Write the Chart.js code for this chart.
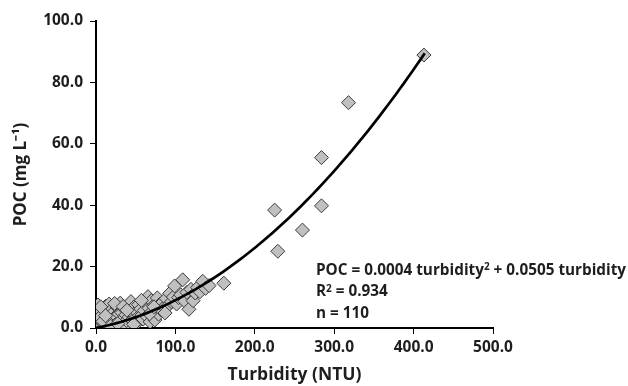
<!DOCTYPE html>
<html>
<head>
<meta charset="utf-8">
<script src="https://cdn.jsdelivr.net/npm/chart.js@4.4.1/dist/chart.umd.min.js"></script>
<style>
html,body{margin:0;padding:0;background:#fff;}
#wrap{width:628px;height:386px;position:relative;}
</style>
</head>
<body>
<div id="wrap"><canvas id="c" width="628" height="386"></canvas></div>
<script>
// ---- data ----
const turbidity = [
  1.2, 2.5, 3.0, 4.1, 5.0, 5.8, 6.5, 7.2, 8.0, 9.1,
  10.3, 11.0, 12.4, 13.5, 14.2, 15.8, 16.5, 17.9, 19.0, 20.3,
  21.5, 22.8, 24.0, 25.2, 26.7, 28.0, 29.3, 30.5, 31.8, 32.6,
  33.9, 35.0, 36.4, 37.7, 38.5, 40.1, 41.6, 42.9, 44.0, 45.3,
  46.8, 48.2, 49.5, 50.7, 52.0, 53.6, 55.1, 56.4, 58.0, 59.3,
  60.8, 62.5, 64.0, 65.4, 66.9, 68.2, 69.7, 71.0, 72.6, 74.1,
  75.5, 77.2, 78.8, 80.3, 82.0, 84.1, 86.0, 88.3, 90.5, 92.8,
  95.0, 97.4, 99.0, 101.5, 104.0, 106.7, 109.2, 111.8, 114.5, 117.0,
  119.6, 122.3, 125.0, 128.1, 131.0, 134.5, 138.0, 142.4,
  3.5, 6.0, 8.7, 12.0, 18.3, 23.5, 27.4, 34.2, 39.0, 47.5, 57.2, 67.5, 73.0, 87.0,
  161.0, 225.0, 229.0, 260.0, 284.0, 284.0, 318.0, 413.0
];
const poc = [
  1.5, 7.5, 0.8, 4.2, 2.6, 5.6, 0.5, 3.4, 6.4, 1.9,
  4.8, 0.9, 7.1, 2.7, 5.0, 3.6, 7.8, 1.6, 4.4, 6.0,
  2.3, 5.3, 0.7, 3.9, 6.8, 2.0, 4.6, 8.1, 1.1, 5.0,
  3.0, 6.5, 0.9, 4.3, 2.4, 7.4, 3.5, 5.6, 8.6, 2.6,
  4.9, 6.9, 3.2, 5.3, 1.8, 7.6, 4.1, 6.2, 4.2, 2.9,
  5.7, 8.3, 3.8, 10.2, 6.4, 2.0, 8.9, 5.2, 7.3, 2.6,
  6.0, 9.8, 4.5, 7.7, 5.9, 8.4, 6.8, 9.6, 7.2, 11.3,
  8.5, 10.1, 13.7, 7.8, 9.9, 10.8, 15.7, 8.7, 11.6, 6.1,
  12.6, 8.9, 11.4, 13.2, 11.8, 15.2, 12.9, 13.8,
  3.1, 6.9, 2.2, 4.0, 0.6, 8.0, 1.4, 7.0, 5.8, 1.2, 9.0, 4.6, 6.9, 4.9,
  14.6, 38.4, 25.0, 31.9, 55.5, 39.8, 73.4, 88.9
];
// fitted trendline, as printed on the chart
const coefA = 0.0004;
const coefB = 0.0505;
const fitRange = [0, 414];
const fitSteps = 80;
const xTicks = [0, 100, 200, 300, 400, 500];
const yTicks = [0, 20, 40, 60, 80, 100];
const eqLines = [
  [['POC = 0.0004 turbidity', false], ['2', true], [' + 0.0505 turbidity', false]],
  [['R', false], ['2', true], [' = 0.934', false]],
  [['n = 110', false]]
];

const scatterData = turbidity.map((x, i) => ({x: x, y: poc[i]}));
const fitData = [];
for (let i = 0; i <= fitSteps; i++) {
  const x = fitRange[0] + (fitRange[1] - fitRange[0]) * i / fitSteps;
  fitData.push({x: x, y: coefA * x * x + coefB * x});
}

const FONT = '"Open Sans"';
const TXT = '#1e1e1e';

const eqPlugin = {
  id: 'eq',
  afterDatasetsDraw(chart) {
    const ctx = chart.ctx;
    const xs = chart.scales.x, ys = chart.scales.y;
    const x0 = xs.getPixelForValue(277);
    const baselines = [17.4, 10.4, 3.4].map(v => ys.getPixelForValue(v));
    ctx.save();
    ctx.fillStyle = TXT;
    ctx.textBaseline = 'alphabetic';
    ctx.textAlign = 'left';
    eqLines.forEach((parts, li) => {
      let x = x0;
      const by = baselines[li];
      parts.forEach(([t, sup]) => {
        ctx.font = sup ? 'bold 10px ' + FONT : 'bold 15.3px ' + FONT;
        ctx.fillText(t, x, sup ? by - 4.5 : by);
        x += ctx.measureText(t).width;
      });
    });
    ctx.restore();
  }
};

new Chart(document.getElementById('c'), {
  type: 'scatter',
  data: {
    datasets: [
      {
        type: 'line',
        data: fitData,
        borderColor: '#000',
        borderWidth: 2.7,
        pointRadius: 0,
        fill: false,
        tension: 0,
        order: 0
      },
      {
        data: scatterData,
        pointStyle: 'rectRot',
        pointRadius: 7,
        pointBackgroundColor: '#c0c0c0',
        pointBorderColor: '#3a3a3a',
        pointBorderWidth: 1,
        order: 1
      }
    ]
  },
  options: {
    responsive: false,
    animation: false,
    events: [],
    layout: {padding: {top: 21, right: 135, bottom: 0, left: 0}},
    plugins: {legend: {display: false}, tooltip: {enabled: false}},
    scales: {
      x: {
        type: 'linear', min: 0, max: 500,
        afterBuildTicks: s => { s.ticks = xTicks.map(v => ({value: v})); },
        afterFit: s => { s.height = 58; },
        grid: {drawOnChartArea: false, drawTicks: true, tickLength: 6, color: '#000', lineWidth: 1},
        border: {display: true, color: '#000', width: 2},
        ticks: {color: TXT, font: {family: FONT, size: 15.5, weight: 'bold'}, padding: 4, maxRotation: 0,
                callback: v => Number(v).toFixed(1)},
        title: {display: true, text: 'Turbidity (NTU)', color: TXT,
                font: {family: FONT, size: 17.5, weight: 'bold'}, padding: {top: 0, bottom: 0}}
      },
      y: {
        type: 'linear', min: 0, max: 100,
        afterBuildTicks: s => { s.ticks = yTicks.map(v => ({value: v})); },
        afterFit: s => { s.width = 96; },
        grid: {drawOnChartArea: false, drawTicks: true, tickLength: 6, color: '#000', lineWidth: 1},
        border: {display: true, color: '#000', width: 2},
        ticks: {color: TXT, font: {family: FONT, size: 15.5, weight: 'bold'}, padding: 7,
                callback: v => Number(v).toFixed(1)},
        title: {display: true, text: 'POC (mg L⁻¹)', color: TXT,
                font: {family: FONT, size: 17, weight: 'bold'}, padding: {top: 11, bottom: 0}}
      }
    }
  },
  plugins: [eqPlugin]
});
</script>
</body>
</html>
